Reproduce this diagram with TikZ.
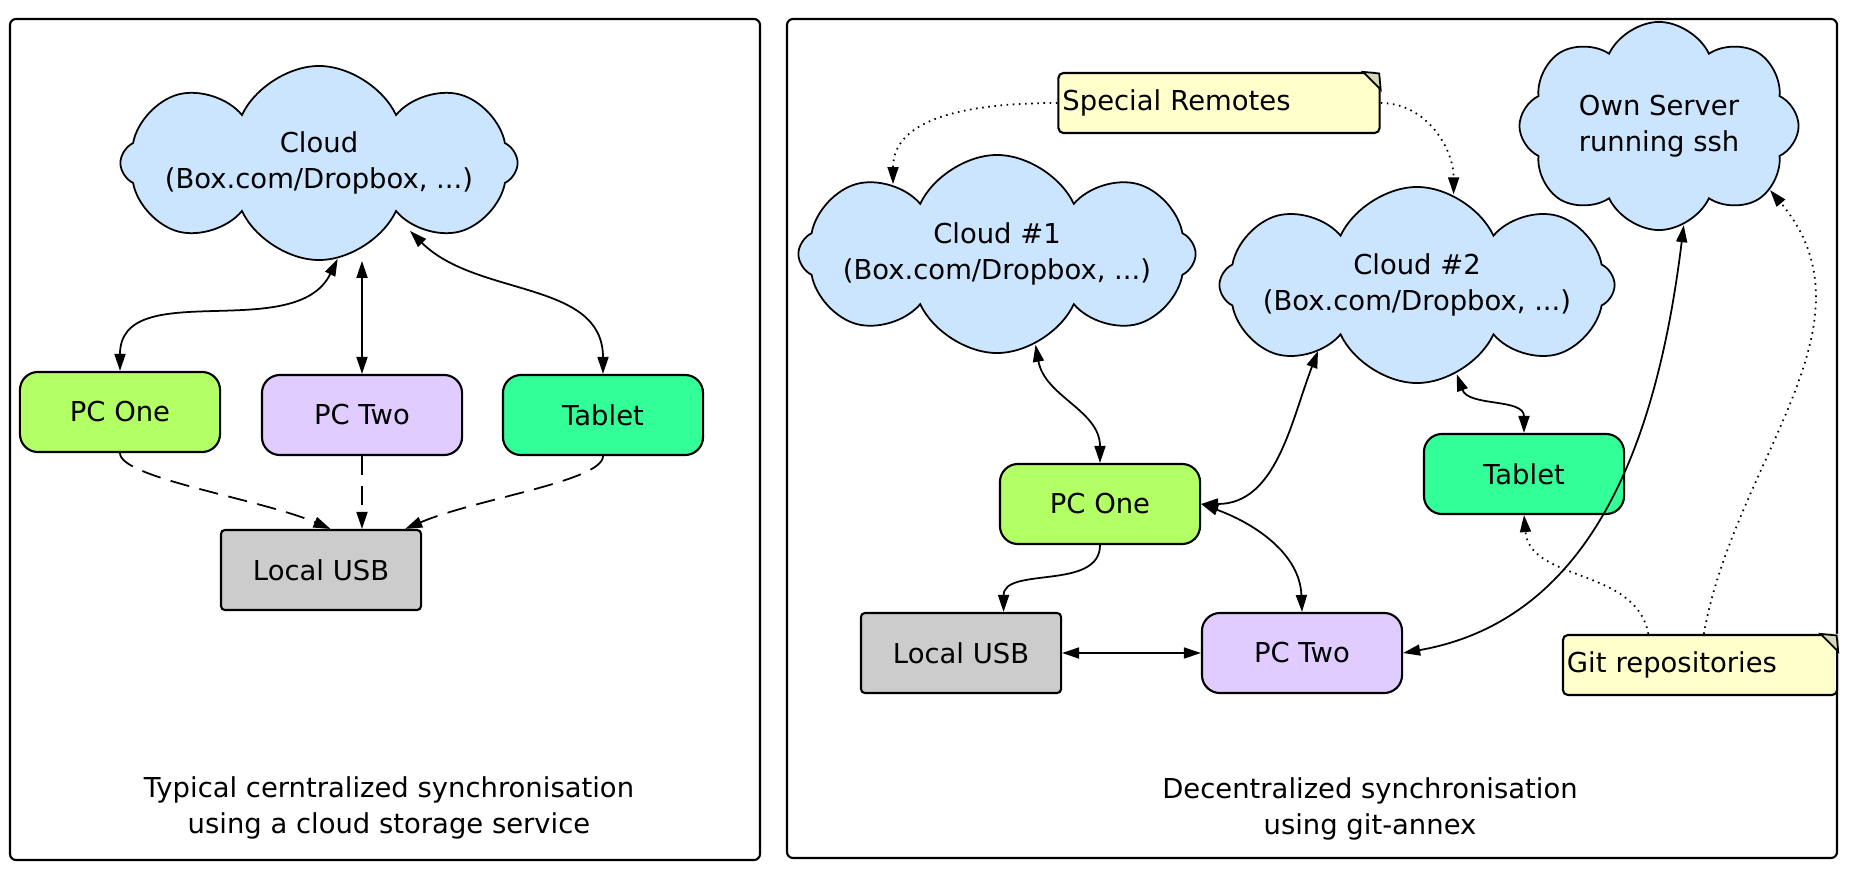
\documentclass[tikz,border=0pt]{standalone}
\usepackage{fontspec}
\setmainfont{DejaVu Sans}
\usetikzlibrary{shapes.symbols, arrows.meta, positioning}

\definecolor{cloudblue}{RGB}{204,229,255}
\definecolor{pconegreen}{RGB}{178,255,102}
\definecolor{pctwolilac}{RGB}{224,204,255}
\definecolor{tabletgreen}{RGB}{51,255,153}
\definecolor{usbgrey}{RGB}{204,204,204}
\definecolor{noteyellow}{RGB}{255,255,204}
\definecolor{foldgrey}{RGB}{215,215,185}

\begin{document}
\begin{tikzpicture}[
    x=0.01cm, y=0.01cm,
    every node/.style={font=\fontsize{7.8}{10.4}\selectfont},
    panel/.style={draw, line width=0.6pt, rounded corners=0.6mm},
    cloudnode/.style={cloud, cloud puffs=8, cloud puff arc=130, cloud ignores aspect, draw, fill=cloudblue, line width=0.5pt, inner sep=0pt},
    cloudtext/.style={label={[align=center]center:#1}},
    device/.style={rectangle, rounded corners=1.8mm, draw, line width=0.6pt, minimum width=2cm, minimum height=0.8cm},
    usb/.style={rectangle, rounded corners=0.4mm, draw, fill=usbgrey, line width=0.6pt, minimum width=2cm, minimum height=0.8cm},
    note/.style={rectangle, rounded corners=0.5mm, draw, fill=noteyellow, line width=0.6pt, align=left, inner xsep=0.4mm, minimum height=0.6cm},
    link/.style={{Triangle[length=1.7mm, width=1.1mm]}-{Triangle[length=1.7mm, width=1.1mm]}, line width=0.5pt},
    oneway/.style={-{Triangle[length=1.7mm, width=1.1mm]}, line width=0.5pt},
    usblink/.style={oneway, dash pattern=on 5.5pt off 3pt},
    hint/.style={oneway, dash pattern=on 0.45pt off 1.3pt},
    caption/.style={align=center}
  ]
    \useasboundingbox (0,0) rectangle (1849,-894);

    \draw[panel] (10,-19) rectangle (760,-860);
    \draw[panel] (787,-19) rectangle (1837,-858);

    % centralized
    \node[cloudnode, minimum width=3.97cm, minimum height=1.94cm, cloudtext={Cloud\\(Box.com/Dropbox, ...)}] (cloudL) at (319,-163) {};
    \node[device, fill=pconegreen] (pconeL) at (120,-412) {PC One};
    \node[device, fill=pctwolilac] (pctwoL) at (362,-415) {PC Two};
    \node[device, fill=tabletgreen] (tabletL) at (603,-415) {Tablet};
    \node[usb] (usbL) at (321,-570) {Local USB};
    \node[caption] (captionL) at (389,-808) {Typical cerntralized synchronisation\\using a cloud storage service};

    \draw[link] (pconeL.north) to[out=90, in=-116] (cloudL.281);
    \draw[link] (pctwoL.north) -- (pctwoL.north |- cloudL.south);
    \draw[link] (tabletL.north) to[out=90, in=-45] ([shift={(91,30)}]cloudL.south);
    \draw[usblink] (pconeL.south) .. controls +(0,-25) and +(-70,30) .. (usbL.77);
    \draw[usblink] (pctwoL.south) -- (pctwoL.south |- usbL.north);
    \draw[usblink] (tabletL.south) .. controls +(0,-25) and +(70,30) .. (usbL.26);

    % git-annex
    \node[note, text width=3.13cm] (sremotes) at (1219,-103) {Special Remotes};
    \node[cloudnode, minimum width=3.97cm, minimum height=1.98cm, cloudtext={Cloud \#1\\(Box.com/Dropbox, ...)}] (cloudA) at (997,-254) {};
    \node[cloudnode, minimum width=3.95cm, minimum height=1.96cm, cloudtext={Cloud \#2\\(Box.com/Dropbox, ...)}] (cloudB) at (1417,-285) {};
    \node[cloudnode, minimum width=2.79cm, minimum height=2.08cm, cloudtext={Own Server\\running ssh}] (server) at (1659,-126) {};
    \node[device, fill=tabletgreen] (tabletR) at (1524,-474) {Tablet};
    \node[device, fill=pconegreen] (pconeR) at (1100,-504) {PC One};
    \node[usb] (usbR) at (961,-653) {Local USB};
    \node[device, fill=pctwolilac] (pctwoR) at (1302,-653) {PC Two};
    \node[note, text width=2.66cm] (gitrepos) at (1700,-665) {Git repositories};
    \node[caption] (captionR) at (1370,-809) {Decentralized synchronisation\\using git-annex};

    \foreach \n in {sremotes, gitrepos} {
      \fill[white] ([xshift=-5]\n.north east) -- (\n.north east) -- ([yshift=-5]\n.north east) -- cycle;
      \draw[line width=0.5pt, fill=foldgrey] ([xshift=-5]\n.north east) -- ([yshift=-5]\n.north east) -- ([shift={(-1.5,-1.5)}]\n.north east) -- cycle;
    }

    \draw[hint] (sremotes.west) to[out=180, in=90] ([shift={(-104,-30)}]cloudA.north);
    \draw[hint] (sremotes.east) to[out=0, in=90] (cloudB.68);
    \draw[link] (cloudA.293) to[out=-80, in=90] (pconeR.north);
    \draw[link] (pconeR.east) to[out=0, in=-111] ([shift={(-99,33)}]cloudB.south);
    \draw[link] (cloudB.294) to[out=-70, in=90] (tabletR.north);
    \draw[link] (pconeR.east) to[out=-20, in=92] (pctwoR.north);
    \draw[oneway] (pconeR.south) to[out=-90, in=90] (usbR.44);
    \draw[link] (usbR.east) -- (pctwoR.west);
    \draw[link] (pctwoR.east) to[out=10, in=-97] (server.284);
    \draw[hint] (gitrepos.149) to[out=100, in=-85] (tabletR.south);
    \draw[hint] (gitrepos.83) to[out=80, in=-50] (server.330);
  \end{tikzpicture}
\end{document}
